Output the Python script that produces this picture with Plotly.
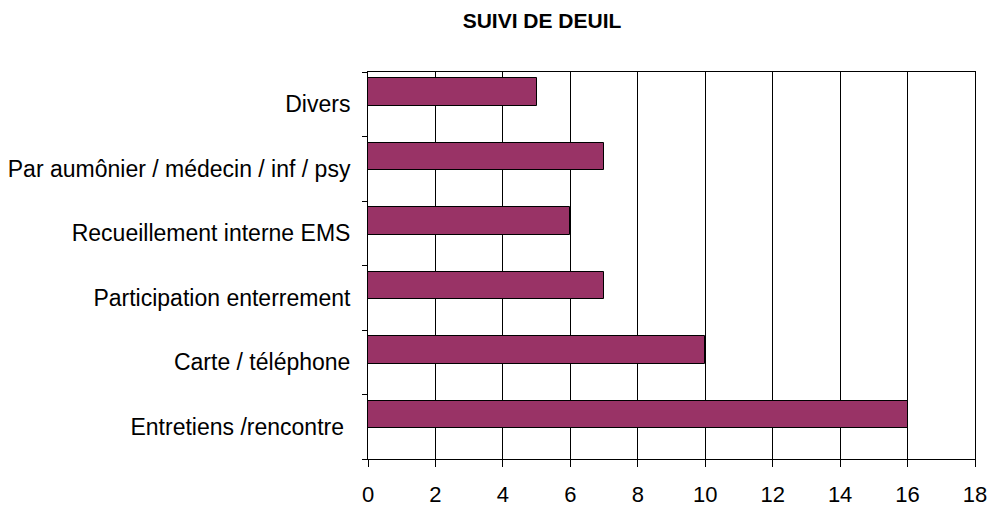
import plotly.graph_objects as go

categories = ["Entretiens /rencontre ", "Carte / téléphone", "Participation enterrement",
              "Recueillement interne EMS", "Par aumônier / médecin / inf / psy", "Divers"]
values = [16, 10, 7, 6, 7, 5]
x_ticks = [0, 2, 4, 6, 8, 10, 12, 14, 16, 18]

fig = go.Figure(go.Bar(
    x=values, y=categories, orientation="h",
    marker=dict(color="#993366", line=dict(color="black", width=1)),
    width=0.42, offset=-0.02, hoverinfo="skip",
))

font = "Liberation Sans, Arial, sans-serif"
fig.update_layout(
    width=990, height=505,
    margin=dict(l=368, r=15, t=72, b=46, autoexpand=False),
    plot_bgcolor="white", paper_bgcolor="white",
    showlegend=False,
    font=dict(family=font, color="black", size=22),
    title=dict(text="<b>SUIVI DE DEUIL</b>", x=542/990, xanchor="center",
               y=1-21/505, yanchor="middle", font=dict(size=21, family=font)),
    bargap=0,
)
fig.update_xaxes(range=[0, 18], tickvals=x_ticks, showgrid=True, gridcolor="black", gridwidth=1,
                 showline=True, linecolor="black", linewidth=1, mirror=True,
                 ticks="outside", ticklen=7, tickcolor="black", zeroline=False,
                 tickfont=dict(size=22), ticklabelstandoff=9, automargin=False)
fig.update_yaxes(type="category", categoryorder="array", categoryarray=categories,
                 showline=True, linecolor="black", linewidth=1, mirror=True,
                 ticks="outside", ticklen=5, tickcolor="black", tickson="boundaries",
                 showgrid=False, ticklabelstandoff=12, tickfont=dict(size=23), automargin=False)

fig.write_html("out.html", config={"displayModeBar": False},
               post_script="document.body.style.margin='0';document.body.style.overflow='hidden';")
